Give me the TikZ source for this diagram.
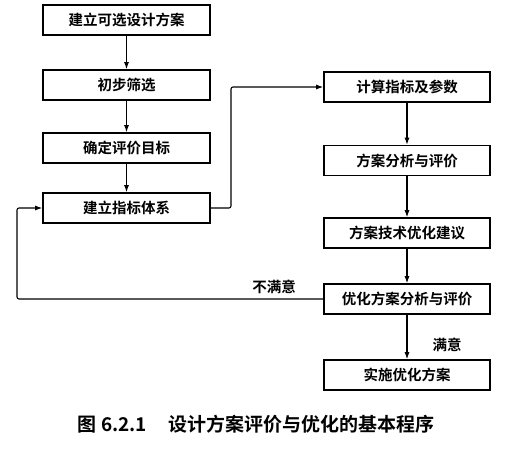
\documentclass[tikz,border=0pt]{standalone}
\usepackage{fontspec}
\setmainfont{Noto Sans CJK SC}[BoldFont={Noto Sans CJK SC Bold}]
\usetikzlibrary{arrows.meta}
\begin{document}
\begin{tikzpicture}[x=1pt,y=-1pt,
  stepbox/.style={draw,line width=1.6pt,minimum height=30pt,inner sep=0pt,font=\bfseries\fontsize{14.5}{14.5}\selectfont},
  lbox/.style={stepbox,minimum width=167pt},
  rbox/.style={stepbox,minimum width=166pt},
  conn/.style={line width=1.1pt,-{Latex[length=7pt,width=5pt]},rounded corners=2pt},
  lbl/.style={font=\bfseries\fontsize{14.5}{14.5}\selectfont}]
\useasboundingbox (0,0) rectangle (516,455);
\node[lbox] (a1) at (126.5,20) {建立可选设计方案};
\node[lbox] (a2) at (126.5,85) {初步筛选};
\node[lbox] (a3) at (126.5,148) {确定评价目标};
\node[lbox] (a4) at (126.5,208) {建立指标体系};
\node[rbox] (b1) at (407,87) {计算指标及参数};
\node[rbox] (b2) at (407,160.5) {方案分析与评价};
\node[rbox] (b3) at (407,233) {方案技术优化建议};
\node[rbox] (b4) at (407,299) {优化方案分析与评价};
\node[rbox] (b5) at (407,375) {实施优化方案};
\coordinate (c1) at (231,208);
\coordinate (c2) at (231,87);
\coordinate (d1) at (17,299);
\coordinate (d2) at (17,208);
\draw[conn] (a1) -- (a2);
\draw[conn] (a2) -- (a3);
\draw[conn] (a3) -- (a4);
\draw[conn] (a4.east) -- (c1) -- (c2) -- (b1.west);
\draw[conn] (b1) -- (b2);
\draw[conn] (b2) -- (b3);
\draw[conn] (b3) -- (b4);
\draw[conn] (b4) -- (b5);
\draw[conn] (b4.west) -- (d1) -- (d2) -- (a4.west);
\node[lbl] (nm) at (274,287) {不满意};
\node[lbl] (m) at (447,345) {满意};
\node[font=\bfseries\fontsize{19}{19}\selectfont] (cap) at (256,424) {图 6.2.1\hspace{1.1em}设计方案评价与优化的基本程序};
\end{tikzpicture}
\end{document}
